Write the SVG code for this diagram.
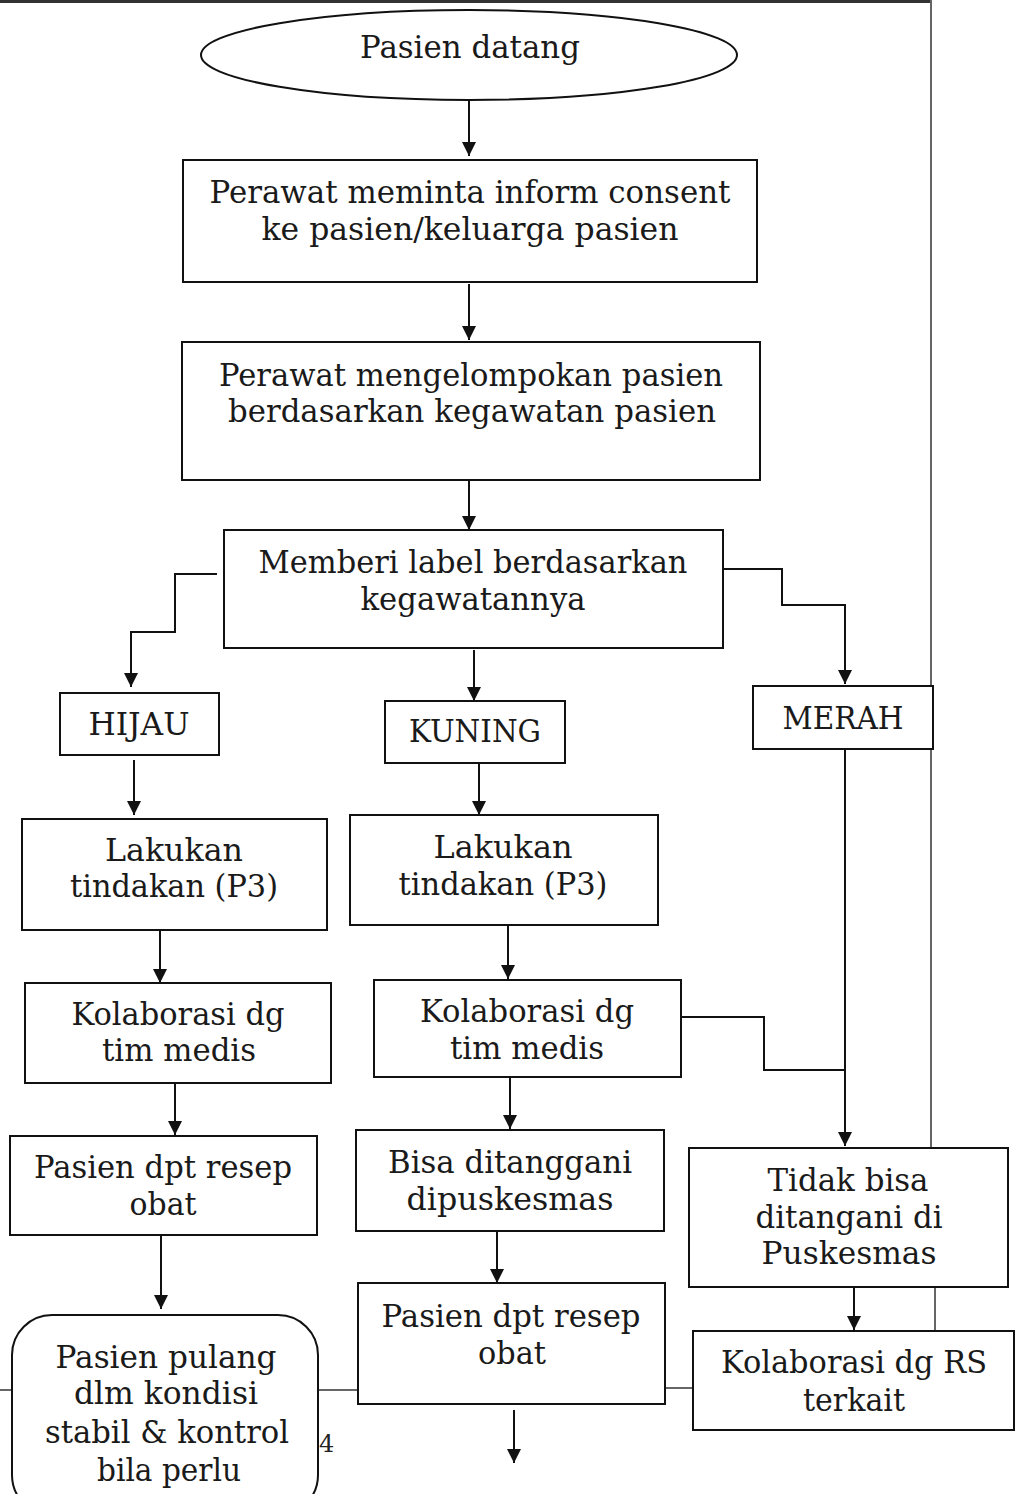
<svg xmlns="http://www.w3.org/2000/svg" width="1021" height="1494" viewBox="0 0 1021 1494">
<defs>
<marker id="ah" viewBox="0 0 10 10" refX="10" refY="5" markerWidth="16" markerHeight="14" markerUnits="userSpaceOnUse" orient="auto">
<path d="M0,0 L10,5 L0,10 z" fill="#111"/>
</marker>
<style>
.n{fill:#fff;stroke:#111;stroke-width:2}
.t{font-family:"DejaVu Serif","Liberation Serif",serif;font-size:32px;fill:#1a1a1a;text-anchor:middle}
.c{fill:none;stroke:#111;stroke-width:2}
.a{fill:none;stroke:#111;stroke-width:2;marker-end:url(#ah)}
.p{fill:none;stroke:#333;stroke-width:1.5}
</style>
</defs>
<rect width="1021" height="1494" fill="#fff"/>
<g id="page">
<rect x="0" y="0" width="930" height="3" fill="#333"/>
<line class="p" x1="931" y1="0" x2="931" y2="1148"/>
<line class="p" x1="935" y1="1287" x2="935" y2="1331"/>
<line class="p" x1="0" y1="1390" x2="12" y2="1390"/>
<line class="p" x1="318" y1="1390" x2="358" y2="1390"/>
<line class="p" x1="665" y1="1388" x2="693" y2="1388"/>
<text x="319" y="1452" style="font-family:'DejaVu Serif',serif;font-size:24px;fill:#222">4</text>
</g>
<g id="connectors">
<line class="a" x1="469" y1="100" x2="469" y2="156"/>
<line class="a" x1="469" y1="284" x2="469" y2="340"/>
<line class="a" x1="469" y1="478" x2="469" y2="530"/>
<polyline class="a" points="217,574 175,574 175,632 131,632 131,687"/>
<polyline class="a" points="720,569 782,569 782,605 845,605 845,684"/>
<line class="a" x1="474" y1="650" x2="474" y2="701"/>
<line class="a" x1="134" y1="760" x2="134" y2="815"/>
<line class="a" x1="479" y1="763" x2="479" y2="815"/>
<line class="a" x1="845" y1="749" x2="845" y2="1146"/>
<polyline class="c" points="681,1017 764,1017 764,1070 845,1070"/>
<line class="a" x1="160" y1="930" x2="160" y2="983"/>
<line class="a" x1="508" y1="925" x2="508" y2="979"/>
<line class="a" x1="175" y1="1083" x2="175" y2="1135"/>
<line class="a" x1="510" y1="1077" x2="510" y2="1129"/>
<line class="a" x1="161" y1="1235" x2="161" y2="1309"/>
<line class="a" x1="497" y1="1231" x2="497" y2="1283"/>
<line class="a" x1="854" y1="1287" x2="854" y2="1330"/>
<line class="a" x1="514" y1="1410" x2="514" y2="1463"/>
</g>
<g id="start">
<ellipse class="n" cx="469" cy="55" rx="268" ry="45"/>
<text class="t" x="470" y="58" textLength="220" lengthAdjust="spacingAndGlyphs">Pasien datang</text>
</g>
<g id="consent">
<rect class="n" x="183" y="160" width="574" height="122"/>
<text class="t" x="470" y="203" textLength="521" lengthAdjust="spacingAndGlyphs">Perawat meminta inform consent</text>
<text class="t" x="470" y="240" textLength="417" lengthAdjust="spacingAndGlyphs">ke pasien/keluarga pasien</text>
</g>
<g id="kelompok">
<rect class="n" x="182" y="342" width="578" height="138"/>
<text class="t" x="471" y="386" textLength="504" lengthAdjust="spacingAndGlyphs">Perawat mengelompokan pasien</text>
<text class="t" x="472" y="422" textLength="488" lengthAdjust="spacingAndGlyphs">berdasarkan kegawatan pasien</text>
</g>
<g id="label">
<rect class="n" x="224" y="530" width="499" height="118"/>
<text class="t" x="473" y="573" textLength="429" lengthAdjust="spacingAndGlyphs">Memberi label berdasarkan</text>
<text class="t" x="473" y="610" textLength="225" lengthAdjust="spacingAndGlyphs">kegawatannya</text>
</g>
<g id="hijau">
<rect class="n" x="60" y="693" width="159" height="62"/>
<text class="t" x="139" y="735" textLength="101" lengthAdjust="spacingAndGlyphs">HIJAU</text>
</g>
<g id="kuning">
<rect class="n" x="385" y="701" width="180" height="62"/>
<text class="t" x="475" y="742" textLength="132" lengthAdjust="spacingAndGlyphs">KUNING</text>
</g>
<g id="merah">
<rect class="n" x="753" y="686" width="180" height="63"/>
<text class="t" x="843" y="729" textLength="121" lengthAdjust="spacingAndGlyphs">MERAH</text>
</g>
<g id="tindakan-hijau">
<rect class="n" x="22" y="819" width="305" height="111"/>
<text class="t" x="174" y="861" textLength="138" lengthAdjust="spacingAndGlyphs">Lakukan</text>
<text class="t" x="174" y="897" textLength="208" lengthAdjust="spacingAndGlyphs">tindakan (P3)</text>
</g>
<g id="tindakan-kuning">
<rect class="n" x="350" y="815" width="308" height="110"/>
<text class="t" x="503" y="858" textLength="139" lengthAdjust="spacingAndGlyphs">Lakukan</text>
<text class="t" x="503" y="895" textLength="209" lengthAdjust="spacingAndGlyphs">tindakan (P3)</text>
</g>
<g id="kolab-hijau">
<rect class="n" x="25" y="983" width="306" height="100"/>
<text class="t" x="178" y="1025" textLength="213" lengthAdjust="spacingAndGlyphs">Kolaborasi dg</text>
<text class="t" x="179" y="1061" textLength="154" lengthAdjust="spacingAndGlyphs">tim medis</text>
</g>
<g id="kolab-kuning">
<rect class="n" x="374" y="980" width="307" height="97"/>
<text class="t" x="527" y="1022" textLength="214" lengthAdjust="spacingAndGlyphs">Kolaborasi dg</text>
<text class="t" x="527" y="1059" textLength="154" lengthAdjust="spacingAndGlyphs">tim medis</text>
</g>
<g id="resep-hijau">
<rect class="n" x="10" y="1136" width="307" height="99"/>
<text class="t" x="163" y="1178" textLength="258" lengthAdjust="spacingAndGlyphs">Pasien dpt resep</text>
<text class="t" x="163" y="1215" textLength="67" lengthAdjust="spacingAndGlyphs">obat</text>
</g>
<g id="bisa">
<rect class="n" x="356" y="1130" width="308" height="101"/>
<text class="t" x="510" y="1173" textLength="244" lengthAdjust="spacingAndGlyphs">Bisa ditanggani</text>
<text class="t" x="510" y="1210" textLength="207" lengthAdjust="spacingAndGlyphs">dipuskesmas</text>
</g>
<g id="tidak-bisa">
<rect class="n" x="689" y="1148" width="319" height="139"/>
<text class="t" x="848" y="1191" textLength="161" lengthAdjust="spacingAndGlyphs">Tidak bisa</text>
<text class="t" x="849" y="1228" textLength="187" lengthAdjust="spacingAndGlyphs">ditangani di</text>
<text class="t" x="849" y="1264" textLength="175" lengthAdjust="spacingAndGlyphs">Puskesmas</text>
</g>
<g id="pulang">
<rect class="n" x="12" y="1315" width="306" height="200" rx="40" ry="40"/>
<text class="t" x="166" y="1368" textLength="221" lengthAdjust="spacingAndGlyphs">Pasien pulang</text>
<text class="t" x="166" y="1404" textLength="184" lengthAdjust="spacingAndGlyphs">dlm kondisi</text>
<text class="t" x="167" y="1443" textLength="244" lengthAdjust="spacingAndGlyphs">stabil &amp; kontrol</text>
<text class="t" x="169" y="1481" textLength="144" lengthAdjust="spacingAndGlyphs">bila perlu</text>
</g>
<g id="resep-kuning">
<rect class="n" x="358" y="1283" width="307" height="121"/>
<text class="t" x="511" y="1327" textLength="259" lengthAdjust="spacingAndGlyphs">Pasien dpt resep</text>
<text class="t" x="512" y="1364" textLength="68" lengthAdjust="spacingAndGlyphs">obat</text>
</g>
<g id="kolab-rs">
<rect class="n" x="693" y="1331" width="321" height="99"/>
<text class="t" x="854" y="1373" textLength="266" lengthAdjust="spacingAndGlyphs">Kolaborasi dg RS</text>
<text class="t" x="854" y="1411" textLength="102" lengthAdjust="spacingAndGlyphs">terkait</text>
</g>
</svg>
